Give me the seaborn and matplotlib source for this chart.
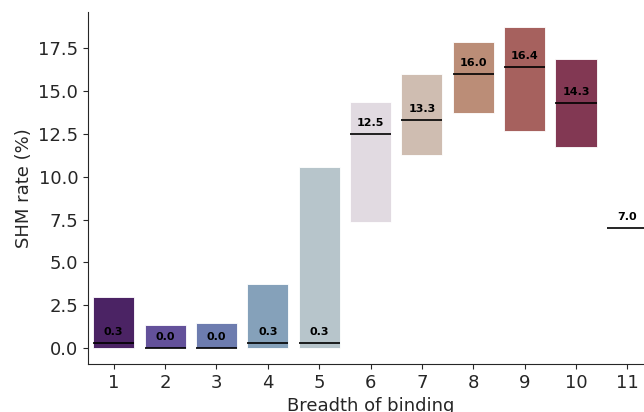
import numpy as np
import pandas as pd
import matplotlib
matplotlib.use("Agg")
import matplotlib.pyplot as plt
import seaborn as sns

# Breadth of binding categories and box summaries
breadth = [1, 2, 3, 4, 5, 6, 7, 8, 9, 10, 11]
q1 = [0.0, 0.0, 0.0, 0.0, 0.0, 7.35, 11.25, 13.7, 12.65, 11.75, 7.0]
median = [0.3, 0.0, 0.0, 0.3, 0.3, 12.5, 13.3, 16.0, 16.4, 14.3, 7.0]
q3 = [3.0, 1.35, 1.45, 3.75, 10.55, 14.35, 16.0, 17.85, 18.75, 16.85, 7.0]

# five points per group -> quartiles fall exactly on q1 / median / q3
rows = []
for b, lo, md, hi in zip(breadth, q1, median, q3):
    for v in [lo, lo, md, hi, hi]:
        rows.append({"Breadth of binding": b, "SHM rate (%)": v})
df = pd.DataFrame(rows)

sns.set_style("ticks")
fig = plt.figure(figsize=(6.44, 4.12), dpi=100)
ax = fig.add_axes([88 / 644, 48 / 412, 565 / 644, 352 / 412])

palette = sns.color_palette("twilight_shifted", len(breadth))
sns.boxplot(data=df, x="Breadth of binding", y="SHM rate (%)",
            hue="Breadth of binding", palette=palette, legend=False,
            whis=0, showcaps=False, showfliers=False, width=0.8,
            boxprops={"edgecolor": "white", "linewidth": 0.6},
            medianprops={"color": "black", "linewidth": 1.2},
            whiskerprops={"linewidth": 0}, ax=ax)

for i, md in enumerate(median):
    ax.text(i, md + 0.35, f"{md:.1f}", ha="center", va="bottom",
            fontsize=8, fontweight="bold", color="black")

ax.set_xlabel("Breadth of binding", fontsize=13)
ax.set_ylabel("SHM rate (%)", fontsize=13)
ax.tick_params(axis="both", labelsize=13)
ax.set_yticks(np.arange(0, 17.6, 2.5))
ax.set_ylim(-0.92, 19.6)
ax.set_xlim(-0.5, 10.5)
sns.despine(ax=ax)

fig.savefig("out.png", dpi=100)
